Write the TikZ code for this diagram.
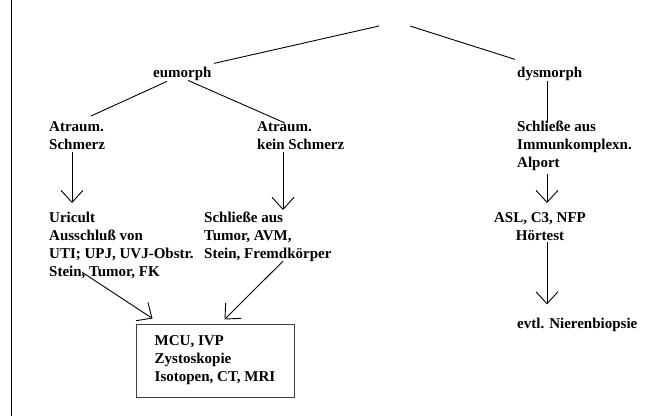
\documentclass[tikz,border=0pt]{standalone}
\usepackage{fontspec}
\setmainfont{Liberation Serif}
\usetikzlibrary{arrows.meta}

\tikzset{
    lbl/.style={font=\fontsize{15}{18}\selectfont\bfseries, inner sep=0pt, align=left},
    conn/.style={line width=0.9pt},
    arr/.style={line width=0.9pt, -{Straight Barb[length=12pt,width=22pt]}}
}

\begin{document}
\begin{tikzpicture}[x=1pt,y=-1pt]
    \useasboundingbox (0,0) rectangle (654,416);
    \draw[line width=1.3pt] (11.5,0) -- (11.5,416);

    \coordinate (rootL) at (379,26);
    \coordinate (rootR) at (410,26);

    \node[lbl, anchor=base west] (eu) at (153,77) {eumorph};
    \node[lbl, anchor=base west] (dys) at (517,77) {dysmorph};

    \node[lbl, anchor=north west] (atA) at (49,121) {Atraum.\\Schmerz};
    \node[lbl, anchor=north west] (atB) at (257,121) {Atraum.\\kein Schmerz};
    \node[lbl, anchor=north west] (dysA) at (517,121) {Schließe aus\\Immunkomplexn.\\Alport};

    \node[lbl, anchor=north west] (uri) at (49,212) {Uricult\\Ausschluß von\\UTI; UPJ, UVJ-Obstr.\\Stein, Tumor, FK};
    \node[lbl, anchor=north west] (sch) at (204,212) {Schließe aus\\Tumor, AVM,\\Stein, Fremdkörper};
    \node[lbl, align=center, anchor=north] (asl) at (540,212) {ASL, C3, NFP\\Hörtest};

    \node[lbl, anchor=base west] (bio) at (517,328) {evtl. Nierenbiopsie};
    \node[lbl, draw=black!75, line width=1pt, minimum width=158pt, minimum height=73pt] (box) at (215,360.5) {MCU, IVP\\Zystoskopie\\Isotopen, CT, MRI};

    \draw[conn] (rootL) -- ([xshift=61pt,yshift=3pt]eu.north west);
    \draw[conn] (rootR) -- ([xshift=-2pt,yshift=7pt]dys.north west);
    \draw[conn] ([xshift=14pt,yshift=-1pt]eu.south west) -- ([xshift=42pt,yshift=5pt]atA.north west);
    \draw[conn] ([xshift=35pt]eu.south west) -- ([xshift=28pt,yshift=-2pt]atB.north west);
    \draw[conn] ([xshift=30pt,yshift=-1pt]dys.south west) -- ([xshift=30pt,yshift=-2pt]dysA.north west);

    \draw[arr, shorten <=3pt, shorten >=9pt] ([xshift=23pt]atA.south west) -- ([xshift=23pt]uri.north west);
    \draw[arr, shorten <=3pt, shorten >=2pt] ([xshift=26pt]atB.south west) -- ([xshift=79pt]sch.north west);
    \draw[arr, shorten <=3pt, shorten >=9pt] ([xshift=30pt]dysA.south west) -- ([xshift=30pt]dysA.south west |- asl.north);
    \draw[arr, shorten <=2pt, shorten >=13pt] (asl.south -| bio.north west) ++(30pt,0) -- ([xshift=30pt]bio.north west);
    \draw[arr] ([xshift=33pt,yshift=7pt]uri.south west) -- ([xshift=17pt,yshift=5pt]box.north west);
    \draw[arr] ([xshift=79pt,yshift=1pt]sch.south west) -- ([xshift=89pt,yshift=4pt]box.north west);
\end{tikzpicture}
\end{document}
